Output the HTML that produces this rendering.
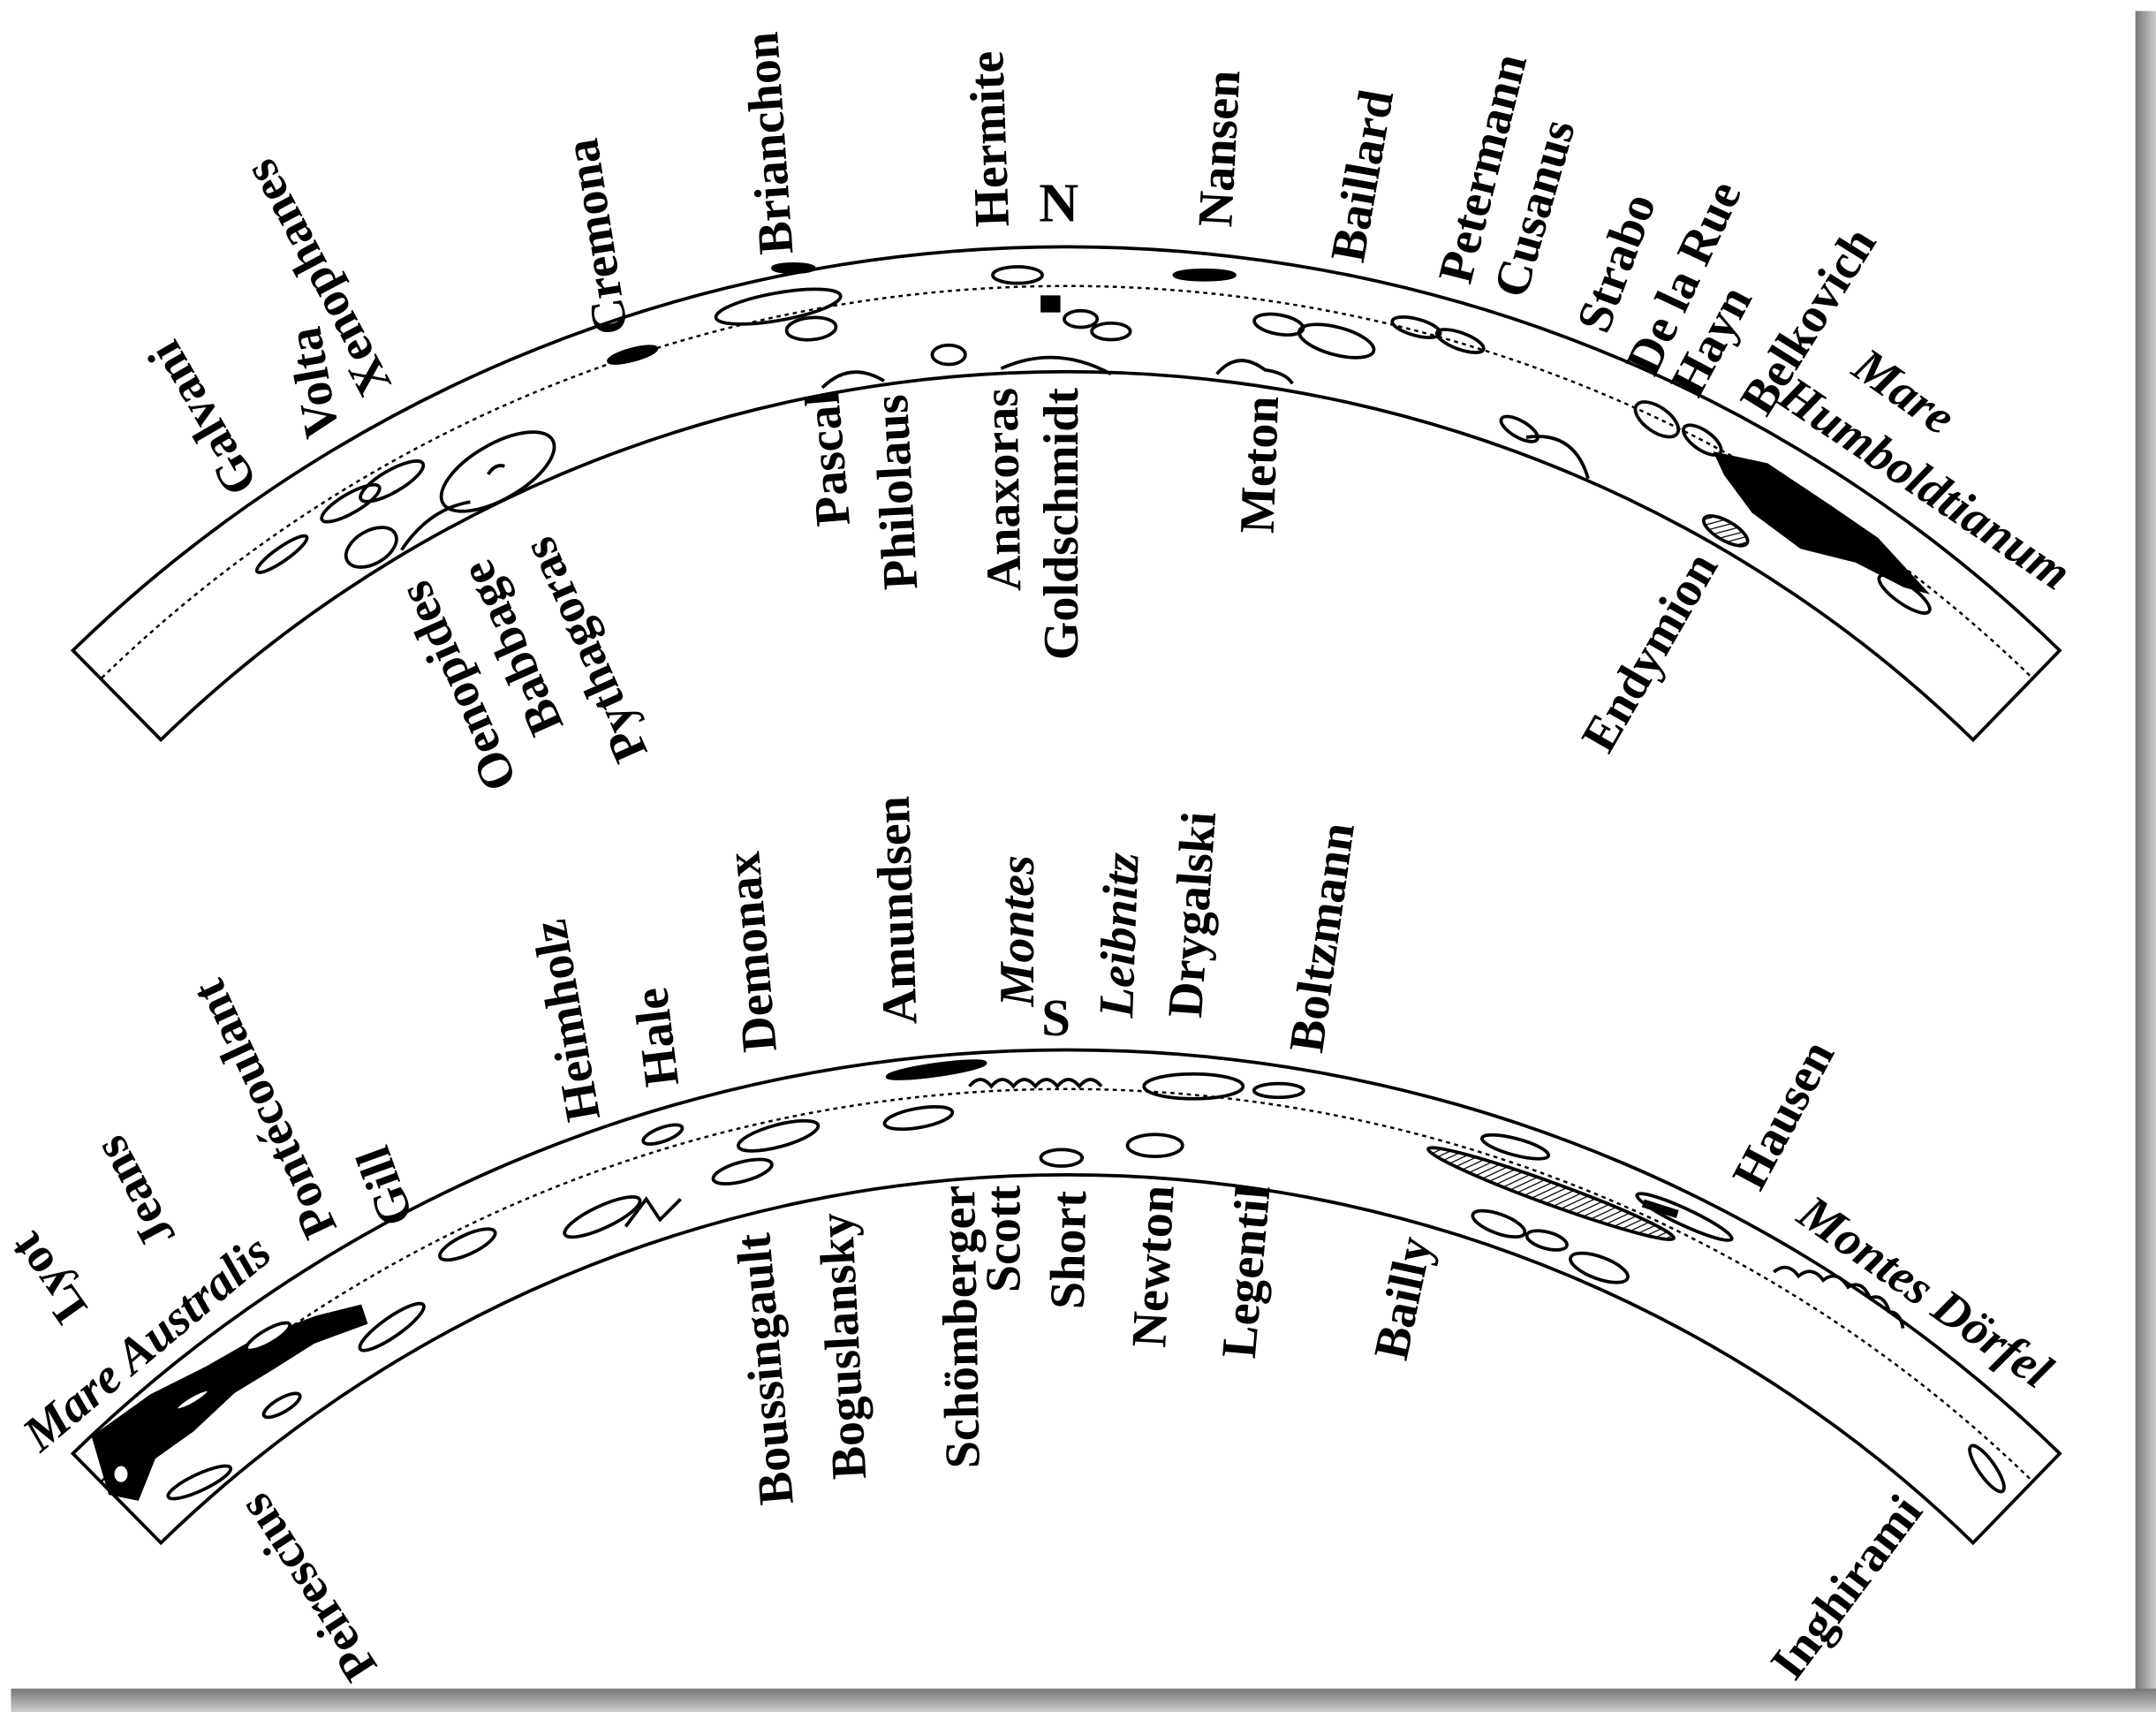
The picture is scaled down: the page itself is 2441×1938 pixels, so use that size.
<!DOCTYPE html>
<html><head><meta charset="utf-8"><style>
html,body{margin:0;padding:0;background:#fff;}
svg{display:block;}
text{font-family:"Liberation Serif",serif;font-weight:bold;font-size:36px;fill:#000;dominant-baseline:central;}
.i{font-style:italic;}
</style></head><body>
<svg width="2441" height="1938" viewBox="0 0 1568 1245" preserveAspectRatio="none" xmlns="http://www.w3.org/2000/svg">
<defs>
<pattern id="h" width="4" height="4" patternUnits="userSpaceOnUse" patternTransform="rotate(45)"><rect width="4" height="4" fill="#fff"/><line x1="0" y1="0" x2="0" y2="4" stroke="#000" stroke-width="1.6"/></pattern>
<linearGradient id="gr" x1="0" x2="1"><stop offset="0" stop-color="#777"/><stop offset="1" stop-color="#ccc"/></linearGradient>
<linearGradient id="gb" x1="0" y1="0" x2="0" y2="1"><stop offset="0" stop-color="#777"/><stop offset="1" stop-color="#ccc"/></linearGradient>
</defs>
<rect width="1568" height="1245" fill="#fff"/>
<rect x="1553" y="8" width="15" height="1237" fill="url(#gr)"/>
<rect x="8" y="1228" width="1560" height="17" fill="url(#gb)"/>

<!-- TOP BAND -->
<g fill="none" stroke="#000" stroke-width="2.4">
<path d="M53,473 A1036,1036 0 0 1 1498,473 L1435,538 A945,945 0 0 0 117,538 Z"/>
<path d="M74,493 A1007,1007 0 0 1 1478,493" stroke-width="1.6" stroke-dasharray="3,3"/>
</g>
<g fill="none" stroke="#000" stroke-width="2.4">
<ellipse cx="205" cy="403" rx="22" ry="5" transform="rotate(-35 205 403)"/>
<ellipse cx="255" cy="366" rx="24" ry="7" transform="rotate(-30 255 366)"/>
<ellipse cx="285" cy="350" rx="26" ry="8" transform="rotate(-30 285 350)"/>
<ellipse cx="270" cy="398" rx="20" ry="12" transform="rotate(-30 270 398)"/>
<ellipse cx="362" cy="343" rx="46" ry="20" transform="rotate(-30 362 343)"/>
<path d="M355,345 q5,-8 12,-6"/>
<path d="M292,400 q20,-30 50,-35"/>
<ellipse cx="460" cy="258" rx="18" ry="4" transform="rotate(-15 460 258)" fill="#000"/>
<ellipse cx="566" cy="223" rx="46" ry="10" transform="rotate(-10 566 223)"/>
<ellipse cx="590" cy="239" rx="18" ry="8" transform="rotate(-5 590 239)"/>
<ellipse cx="577" cy="195" rx="15" ry="3" fill="#000"/>
<path d="M598,282 q20,-20 45,-5"/>
<ellipse cx="690" cy="258" rx="12" ry="7"/>
<ellipse cx="740" cy="200" rx="18" ry="6"/>
<rect x="758" y="216" width="12" height="10" fill="#000"/>
<ellipse cx="786" cy="232" rx="12" ry="6"/>
<ellipse cx="808" cy="241" rx="14" ry="6"/>
<path d="M728,268 q40,-18 80,4"/>
<ellipse cx="876" cy="200" rx="22" ry="3.5" fill="#000"/>
<ellipse cx="930" cy="236" rx="18" ry="7" transform="rotate(10 930 236)"/>
<ellipse cx="972" cy="248" rx="28" ry="10" transform="rotate(15 972 248)"/>
<path d="M885,272 q15,-18 35,-3 q15,2 20,10"/>
<ellipse cx="1030" cy="238" rx="18" ry="6" transform="rotate(15 1030 238)"/>
<ellipse cx="1062" cy="248" rx="18" ry="6" transform="rotate(20 1062 248)"/>
<ellipse cx="1105" cy="312" rx="15" ry="6" transform="rotate(30 1105 312)"/>
<path d="M1110,318 q35,-5 45,30"/>
<ellipse cx="1205" cy="305" rx="18" ry="9" transform="rotate(35 1205 305)"/>
<ellipse cx="1238" cy="320" rx="16" ry="7" transform="rotate(35 1238 320)"/>
<path d="M1248,330 L1285,338 L1330,368 L1365,392 L1400,430 L1385,426 L1350,408 L1310,398 L1275,372 L1255,345 Z" fill="#000"/>
<ellipse cx="1255" cy="386" rx="18" ry="7" transform="rotate(30 1255 386)" fill="url(#h)"/>
<ellipse cx="1385" cy="432" rx="22" ry="7" transform="rotate(35 1385 432)"/>
</g>
<!-- top labels -->
<text transform="translate(178,357) rotate(-120)">Galvani</text>
<text transform="translate(235,318) rotate(-100)">Volta</text>
<text transform="translate(275,285) rotate(-118)">Xenophanes</text>
<text transform="translate(445,243) rotate(-99)">Cremona</text>
<text transform="translate(565,185) rotate(-94)">Brianchon</text>
<text transform="translate(722,165) rotate(-92)">Hermite</text>
<text x="770" y="148" style="font-size:40px" text-anchor="middle">N</text>
<text transform="translate(884,165) rotate(-87)">Nansen</text>
<text transform="translate(980,190) rotate(-80)">Baillard</text>
<text transform="translate(1058,205) rotate(-76)">Petermann</text>
<text transform="translate(1098,215) rotate(-74)">Cusanus</text>
<text transform="translate(1158,240) rotate(-70)">Strabo</text>
<text transform="translate(1193,270) rotate(-65)">De la Rue</text>
<text transform="translate(1225,285) rotate(-62)">Hayn</text>
<text transform="translate(1275,298) rotate(-58)">Belkovich</text>
<text class="i" transform="translate(1352,262) rotate(35)">Mare</text>
<text class="i" transform="translate(1298,283) rotate(34)">Humboldtianum</text>
<text text-anchor="end" transform="translate(300,425) rotate(-114)">Oenopides</text>
<text text-anchor="end" transform="translate(345,410) rotate(-114)">Babbage</text>
<text text-anchor="end" transform="translate(390,393) rotate(-114)">Pythagoras</text>
<text text-anchor="end" transform="translate(598,285) rotate(-95)">Pascal</text>
<text text-anchor="end" transform="translate(648,287) rotate(-93)">Philolaus</text>
<text text-anchor="end" transform="translate(728,282) rotate(-91)">Anaxoras</text>
<text text-anchor="end" transform="translate(772,282) rotate(-90)">Goldschmidt</text>
<text text-anchor="end" transform="translate(918,288) rotate(-88)">Meton</text>
<text text-anchor="end" transform="translate(1240,405) rotate(-60)">Endymion</text>

<!-- BOTTOM BAND -->
<g fill="none" stroke="#000" stroke-width="2.4">
<path d="M53,1057 A1036,1036 0 0 1 1498,1057 L1435,1122 A945,945 0 0 0 117,1122 Z"/>
<path d="M74,1077 A1007,1007 0 0 1 1478,1077" stroke-width="1.6" stroke-dasharray="3,3"/>
</g>
<g fill="none" stroke="#000" stroke-width="2.4">
<path d="M68,1045 L110,1015 L150,995 L185,975 L230,958 L262,950 L266,962 L228,976 L198,995 L170,1012 L140,1040 L112,1060 L100,1090 L80,1086 Z" fill="#000"/>
<ellipse cx="195" cy="972" rx="18" ry="5" transform="rotate(-30 195 972)" fill="#fff"/>
<ellipse cx="140" cy="1018" rx="14" ry="3" transform="rotate(-30 140 1018)" fill="#fff"/>
<ellipse cx="88" cy="1072" rx="6" ry="7" fill="#fff"/>
<ellipse cx="285" cy="965" rx="28" ry="7" transform="rotate(-35 285 965)"/>
<ellipse cx="205" cy="1022" rx="15" ry="5" transform="rotate(-30 205 1022)"/>
<ellipse cx="145" cy="1078" rx="25" ry="6" transform="rotate(-25 145 1078)"/>
<ellipse cx="340" cy="905" rx="22" ry="7" transform="rotate(-25 340 905)"/>
<ellipse cx="438" cy="885" rx="30" ry="8" transform="rotate(-25 438 885)"/>
<path d="M455,892 l15,-20 l10,15 l15,-15"/>
<ellipse cx="482" cy="825" rx="15" ry="5" transform="rotate(-20 482 825)"/>
<ellipse cx="540" cy="852" rx="22" ry="7" transform="rotate(-15 540 852)"/>
<ellipse cx="566" cy="826" rx="30" ry="8" transform="rotate(-15 566 826)"/>
<ellipse cx="668" cy="813" rx="25" ry="7" transform="rotate(-10 668 813)"/>
<ellipse cx="681" cy="778" rx="36" ry="4" transform="rotate(-8 681 778)" fill="#000"/>
<path d="M705,790 q8,-10 16,0 q8,-10 16,0 q8,-10 16,0 q8,-10 16,0 q8,-10 16,0 q8,-10 16,0"/>
<ellipse cx="868" cy="790" rx="36" ry="9"/>
<ellipse cx="930" cy="793" rx="18" ry="5"/>
<ellipse cx="772" cy="842" rx="15" ry="6"/>
<ellipse cx="840" cy="833" rx="20" ry="8"/>
<ellipse cx="1102" cy="834" rx="25" ry="6" transform="rotate(15 1102 834)"/>
<ellipse cx="1128" cy="868" rx="95" ry="8" transform="rotate(20 1128 868)" fill="url(#h)"/>
<ellipse cx="1090" cy="890" rx="20" ry="7" transform="rotate(20 1090 890)"/>
<ellipse cx="1125" cy="902" rx="15" ry="6" transform="rotate(15 1125 902)"/>
<ellipse cx="1163" cy="922" rx="22" ry="8" transform="rotate(20 1163 922)"/>
<ellipse cx="1225" cy="885" rx="38" ry="6" transform="rotate(25 1225 885)"/>
<path d="M1195,875 l25,8" stroke-width="6"/>
<path d="M1290,925 q10,-8 18,3 q10,-8 18,3 q10,-8 18,5 q10,-6 16,8 q10,-4 14,10 q8,0 10,12"/>
<ellipse cx="1445" cy="1068" rx="20" ry="6" transform="rotate(55 1445 1068)"/>
</g>
<!-- bottom labels -->
<text transform="translate(55,958) rotate(-125)">Lyot</text>
<text transform="translate(118,905) rotate(-118)">Jeans</text>
<text class="i" transform="translate(22,1048) rotate(-40)">Mare Australis</text>
<text transform="translate(235,898) rotate(-115)">Pontécoulant</text>
<text transform="translate(290,890) rotate(-110)">Gill</text>
<text transform="translate(425,815) rotate(-100)">Heimholz</text>
<text transform="translate(482,790) rotate(-97)">Hale</text>
<text transform="translate(553,765) rotate(-95)">Demonax</text>
<text transform="translate(655,745) rotate(-92)">Amundsen</text>
<text class="i" transform="translate(740,732) rotate(-90)">Montes</text>
<text x="768" y="740" style="font-size:38px" text-anchor="middle">S</text>
<text class="i" transform="translate(812,740) rotate(-88)">Leibnitz</text>
<text transform="translate(862,740) rotate(-86)">Drygalski</text>
<text transform="translate(950,765) rotate(-82)">Boltzmann</text>
<text transform="translate(1270,862) rotate(-62)">Hausen</text>
<text class="i" transform="translate(1312,878) rotate(35)">Montes Dörfel</text>
<text text-anchor="end" transform="translate(182,1090) rotate(-123)">Peirescius</text>
<text text-anchor="end" transform="translate(548,897) rotate(-95)">Boussingault</text>
<text text-anchor="end" transform="translate(608,882) rotate(-93)">Boguslansky</text>
<text text-anchor="end" transform="translate(697,862) rotate(-91)">Schömberger</text>
<text text-anchor="end" transform="translate(730,862) rotate(-90)">Scott</text>
<text text-anchor="end" transform="translate(778,866) rotate(-89)">Short</text>
<text text-anchor="end" transform="translate(842,862) rotate(-87)">Newton</text>
<text text-anchor="end" transform="translate(912,862) rotate(-85)">Legentil</text>
<text text-anchor="end" transform="translate(1030,900) rotate(-78)">Bailly</text>
<text text-anchor="end" transform="translate(1390,1092) rotate(-53)">Inghirami</text>
</svg>
</body></html>
